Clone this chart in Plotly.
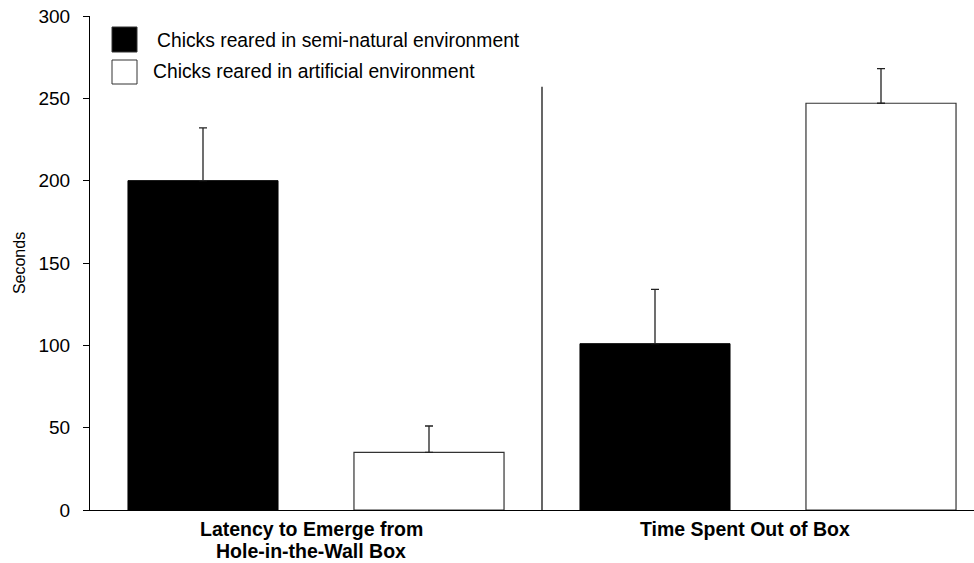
import plotly.graph_objects as go

# ---- data ----
categories = ["Latency to Emerge from<br>Hole-in-the-Wall Box", "Time Spent Out of Box"]
series_names = ["Chicks reared in semi-natural environment", "Chicks reared in artificial environment"]
semi_natural = [200, 101]
semi_natural_err = [32, 33]
artificial = [35, 247]
artificial_err = [16, 21]
y_ticks = [0, 50, 100, 150, 200, 250, 300]

W, H = 974, 563
# plot area in screen pixels: x 90..974, y 16..510
SX0, SX1, SY0, SY1 = 90, 974, 16, 510
PW, PH = SX1 - SX0, SY1 - SY0
L, T, R, B = SX0, SY0, W - SX1, H - SY1

def px(xp):
    return (xp - SX0) / PW

def py(yp):
    return (SY1 - yp) / PH

FONT = "Liberation Sans, Arial, Helvetica, sans-serif"
keys = ["c0", "c1"]
label_shift = [-5, -23]

fig = go.Figure()
fig.add_trace(go.Bar(
    x=keys, y=semi_natural, name=series_names[0],
    marker=dict(color="black", line=dict(color="black", width=1)),
    error_y=dict(type="data", array=semi_natural_err, arrayminus=[0] * len(semi_natural),
                 symmetric=False, color="#222", thickness=1.3, width=4),
    showlegend=False, hoverinfo="skip",
))
fig.add_trace(go.Bar(
    x=keys, y=artificial, name=series_names[1],
    marker=dict(color="white", line=dict(color="#333", width=1.2)),
    error_y=dict(type="data", array=artificial_err, arrayminus=[0] * len(artificial),
                 symmetric=False, color="#222", thickness=1.3, width=4),
    showlegend=False, hoverinfo="skip",
))

# divider between the two groups
fig.add_shape(type="line", xref="x", yref="y", x0=0.5, x1=0.5, y0=0, y1=257,
              line=dict(color="black", width=1.2))

# legend (drawn manually to match large swatches)
fig.add_shape(type="rect", xref="paper", yref="paper",
              x0=px(112), x1=px(137), y0=py(52), y1=py(27),
              fillcolor="black", line=dict(color="#333", width=1))
fig.add_shape(type="rect", xref="paper", yref="paper",
              x0=px(112), x1=px(137), y0=py(84), y1=py(60),
              fillcolor="white", line=dict(color="#333", width=1))
fig.add_annotation(xref="paper", yref="paper", x=px(155), y=py(40), xanchor="left", yanchor="middle",
                   text=series_names[0], showarrow=False, font=dict(family=FONT, size=19.3, color="black"))
fig.add_annotation(xref="paper", yref="paper", x=px(151), y=py(72), xanchor="left", yanchor="middle",
                   text=series_names[1], showarrow=False, font=dict(family=FONT, size=19.3, color="black"))

# category labels
for k, c, sh in zip(keys, categories, label_shift):
    for i, line in enumerate(c.split("<br>")):
        fig.add_annotation(xref="x", yref="paper", x=k, y=0, xshift=sh, yshift=-6 - 22 * i,
                           xanchor="center", yanchor="top", text="<b>" + line + "</b>", showarrow=False,
                           font=dict(family=FONT, size=19.5, color="black"), align="center")

fig.update_layout(
    width=W, height=H,
    margin=dict(l=L, r=R, t=T, b=B, pad=0),
    paper_bgcolor="white", plot_bgcolor="white",
    barmode="group", bargap=0, bargroupgap=0.336,
    font=dict(family=FONT, size=19, color="black"),
)
fig.update_xaxes(
    type="category", categoryorder="array", categoryarray=keys,
    range=[-0.5, -0.5 + PW / 452], showticklabels=False, ticks="",
    showline=True, linecolor="black", linewidth=1.3, showgrid=False, zeroline=False,
)
fig.update_yaxes(
    range=[0, 300], tickvals=y_ticks, ticks="outside", ticklen=6, tickcolor="black", tickwidth=1,
    showline=True, linecolor="black", linewidth=1.2, showgrid=False, zeroline=False,
    tickfont=dict(family=FONT, size=19), ticklabelstandoff=9,
    title=dict(text="Seconds", font=dict(family=FONT, size=16), standoff=8),
)

fig.write_html("out.html", config={"displayModeBar": False},
               post_script="document.body.style.margin='0px';")
